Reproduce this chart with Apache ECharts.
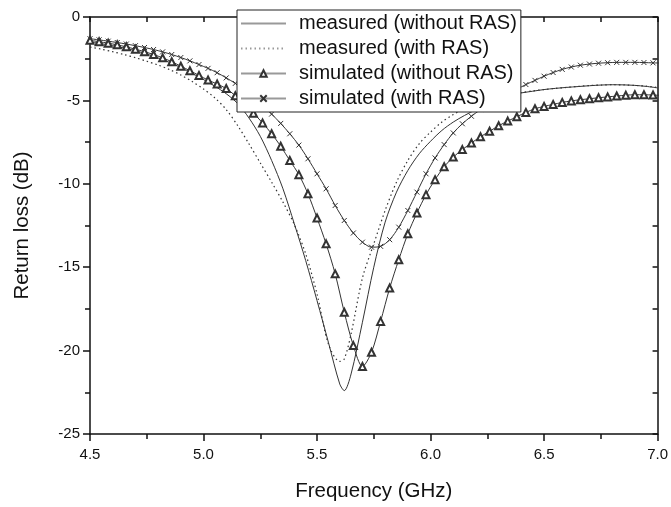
<!DOCTYPE html>
<html>
<head>
<meta charset="utf-8">
<script src="https://cdn.jsdelivr.net/npm/echarts@6/dist/echarts.min.js"></script>
<style>
  html, body { margin: 0; padding: 0; background: #fff; }
  #chart { width: 671px; height: 507px; }
</style>
</head>
<body>
<div id="chart"></div>
<script>
// 测量曲线 (0.05 GHz 步进)
var freqMeas = [4.50, 4.55, 4.60, 4.65, 4.70, 4.75, 4.80, 4.85, 4.90, 4.95,
    5.00, 5.05, 5.10, 5.15, 5.20, 5.25, 5.30, 5.35, 5.40, 5.45,
    5.50, 5.55, 5.60, 5.62, 5.65, 5.70, 5.75, 5.80, 5.85, 5.90, 5.95,
    6.00, 6.05, 6.10, 6.15, 6.20, 6.25, 6.30, 6.35, 6.40, 6.45,
    6.50, 6.55, 6.60, 6.65, 6.70, 6.75, 6.80, 6.85, 6.90, 6.95, 7.00];
var measNoRas = [-1.50, -1.60, -1.72, -1.86, -2.02, -2.22, -2.45, -2.72, -3.03, -3.38,
    -3.75, -4.15, -4.60, -5.18, -6.05, -7.15, -8.60, -10.3, -12.4, -14.6,
    -17.0, -19.5, -22.0, -22.4, -21.4, -18.3, -15.0, -12.3, -10.5, -9.2, -8.2,
    -7.45, -6.8, -6.3, -5.9, -5.55, -5.2, -4.88, -4.68, -4.55, -4.45,
    -4.35, -4.28, -4.22, -4.17, -4.12, -4.08, -4.06, -4.07, -4.10, -4.16, -4.25];
var measRas = [-1.80, -1.93, -2.08, -2.25, -2.44, -2.65, -2.88, -3.15, -3.48, -3.87,
    -4.32, -4.85, -5.55, -6.5, -7.6, -8.75, -9.9, -11.1, -12.45, -14.2,
    -16.6, -19.6, -20.65, -20.5, -19.0, -15.65, -13.6, -11.6, -9.9, -8.6, -7.6,
    -6.9, -6.3, -5.85, -5.5, -5.2, -4.98, -4.8, -4.65, -4.53, -4.43,
    -4.35, -4.28, -4.22, -4.16, -4.11, -4.08, -4.06, -4.07, -4.10, -4.15, -4.22];

// 仿真曲线 (0.04 GHz 步进)
var freqSim = [4.50, 4.54, 4.58, 4.62, 4.66, 4.70, 4.74, 4.78, 4.82, 4.86,
    4.90, 4.94, 4.98, 5.02, 5.06, 5.10, 5.14, 5.18, 5.22, 5.26,
    5.30, 5.34, 5.38, 5.42, 5.46, 5.50, 5.54, 5.58, 5.62, 5.66,
    5.70, 5.74, 5.78, 5.82, 5.86, 5.90, 5.94, 5.98, 6.02, 6.06,
    6.10, 6.14, 6.18, 6.22, 6.26, 6.30, 6.34, 6.38, 6.42, 6.46,
    6.50, 6.54, 6.58, 6.62, 6.66, 6.70, 6.74, 6.78, 6.82, 6.86,
    6.90, 6.94, 6.98, 7.02];
var simNoRas = [-1.40, -1.48, -1.57, -1.67, -1.79, -1.93, -2.08, -2.25, -2.45, -2.68,
    -2.95, -3.22, -3.50, -3.78, -4.02, -4.29, -4.72, -5.25, -5.77, -6.35,
    -7.00, -7.75, -8.60, -9.45, -10.6, -12.05, -13.6, -15.4, -17.7, -19.7,
    -20.95, -20.1, -18.25, -16.25, -14.55, -13.0, -11.75, -10.65, -9.75, -8.98,
    -8.4, -7.95, -7.55, -7.18, -6.85, -6.52, -6.24, -5.98, -5.72, -5.5,
    -5.36, -5.24, -5.12, -5.03, -4.96, -4.90, -4.84, -4.79, -4.74, -4.69,
    -4.66, -4.66, -4.68, -4.70];
var simRas = [-1.30, -1.37, -1.45, -1.53, -1.62, -1.72, -1.83, -1.95, -2.09, -2.25,
    -2.43, -2.63, -2.85, -3.08, -3.34, -3.65, -3.98, -4.38, -4.82, -5.30,
    -5.82, -6.38, -7.0, -7.68, -8.5, -9.4, -10.3, -11.3, -12.2, -12.95,
    -13.5, -13.8, -13.75, -13.35, -12.6, -11.6, -10.5, -9.4, -8.45, -7.65,
    -6.95, -6.4, -5.95, -5.55, -5.2, -4.9, -4.6, -4.33, -4.05, -3.8,
    -3.55, -3.33, -3.14, -3.0, -2.89, -2.82, -2.77, -2.74, -2.72, -2.72,
    -2.72, -2.73, -2.75, -2.76];

var seriesNames = ['measured (without RAS)', 'measured (with RAS)',
    'simulated (without RAS)', 'simulated (with RAS)'];

function pairs(xs, ys) {
    var out = [];
    for (var i = 0; i < xs.length; i++) {
        out.push([xs[i], ys[i]]);
    }
    return out;
}

var font = 'Liberation Sans, Arial, sans-serif';
var lineColor = '#333';
var axisColor = '#111';

var chart = echarts.init(document.getElementById('chart'));

var option = {
    backgroundColor: '#fff',
    animation: false,
    grid: { left: 90, right: 11, top: 17, bottom: 65 },
    legend: {
        orient: 'vertical',
        left: 237,
        top: 10,
        padding: [3, 4, 3, 3],
        itemWidth: 45,
        itemHeight: 8,
        itemGap: 4,
        backgroundColor: '#fff',
        borderColor: '#222',
        borderWidth: 1,
        z: 10,
        lineStyle: { color: '#999' },
        textStyle: { fontFamily: font, fontSize: 20, lineHeight: 21, color: '#111', padding: [0, 0, 0, 8] },
        data: [
            { name: seriesNames[0], itemStyle: { opacity: 0 } },
            { name: seriesNames[1], itemStyle: { opacity: 0 } },
            { name: seriesNames[2] },
            { name: seriesNames[3] }
        ]
    },
    xAxis: [{
        type: 'value',
        min: 4.5,
        max: 7.0,
        interval: 0.5,
        name: 'Frequency (GHz)',
        nameLocation: 'middle',
        nameGap: 47,
        nameTextStyle: { fontFamily: font, fontSize: 20.5, color: '#111' },
        axisLine: { show: true, onZero: false, lineStyle: { color: axisColor, width: 1.5 } },
        axisTick: { show: true, inside: false, length: 7, lineStyle: { color: axisColor, width: 1.5 } },
        minorTick: { show: true, splitNumber: 2, length: 5, lineStyle: { color: axisColor, width: 1.5 } },
        axisLabel: {
            fontFamily: font, fontSize: 15, color: '#111', margin: 13,
            formatter: function (v) { return v.toFixed(1); }
        },
        splitLine: { show: false }
    }, {
        type: 'value',
        position: 'top',
        min: 4.5,
        max: 7.0,
        interval: 0.5,
        axisLine: { show: true, onZero: false, lineStyle: { color: axisColor, width: 1.5 } },
        axisTick: { show: true, inside: true, length: 5, lineStyle: { color: axisColor, width: 1.5 } },
        minorTick: { show: true, splitNumber: 2, length: 5, lineStyle: { color: axisColor, width: 1.5 } },
        axisLabel: { show: false },
        splitLine: { show: false }
    }],
    yAxis: [{
        type: 'value',
        min: -25,
        max: 0,
        interval: 5,
        name: 'Return loss (dB)',
        nameLocation: 'middle',
        nameGap: 57,
        nameTextStyle: { fontFamily: font, fontSize: 20.5, color: '#111' },
        axisLine: { show: true, onZero: false, lineStyle: { color: axisColor, width: 1.5 } },
        axisTick: { show: true, inside: false, length: 7, lineStyle: { color: axisColor, width: 1.5 } },
        minorTick: { show: true, splitNumber: 2, length: 5, lineStyle: { color: axisColor, width: 1.5 } },
        axisLabel: { fontFamily: font, fontSize: 15, color: '#111', margin: 10 },
        splitLine: { show: false }
    }, {
        type: 'value',
        position: 'right',
        min: -25,
        max: 0,
        interval: 5,
        axisLine: { show: true, onZero: false, lineStyle: { color: axisColor, width: 1.5 } },
        axisTick: { show: true, inside: true, length: 5, lineStyle: { color: axisColor, width: 1.5 } },
        minorTick: { show: true, splitNumber: 2, length: 5, lineStyle: { color: axisColor, width: 1.5 } },
        axisLabel: { show: false },
        splitLine: { show: false }
    }],
    series: [{
        name: seriesNames[0],
        type: 'line',
        data: pairs(freqMeas, measNoRas),
        smooth: 0.3,
        symbol: 'none',
        lineStyle: { color: lineColor, width: 1 },
        itemStyle: { color: lineColor }
    }, {
        name: seriesNames[1],
        type: 'line',
        data: pairs(freqMeas, measRas),
        smooth: 0.3,
        symbol: 'none',
        lineStyle: { color: lineColor, width: 1.2, type: [1.5, 3] },
        itemStyle: { color: lineColor }
    }, {
        name: seriesNames[2],
        type: 'line',
        data: pairs(freqSim, simNoRas),
        smooth: 0.3,
        symbol: 'emptyTriangle',
        symbolSize: 7,
        lineStyle: { color: lineColor, width: 1 },
        itemStyle: { color: lineColor, borderColor: lineColor, borderWidth: 1 }
    }, {
        name: seriesNames[3],
        type: 'line',
        data: pairs(freqSim, simRas),
        smooth: 0.3,
        symbol: 'path://M0 0L10 10M10 0L0 10',
        symbolSize: 5,
        lineStyle: { color: lineColor, width: 1 },
        itemStyle: { color: lineColor, borderColor: lineColor, borderWidth: 1 }
    }]
};

chart.setOption(option);
</script>
</body>
</html>
